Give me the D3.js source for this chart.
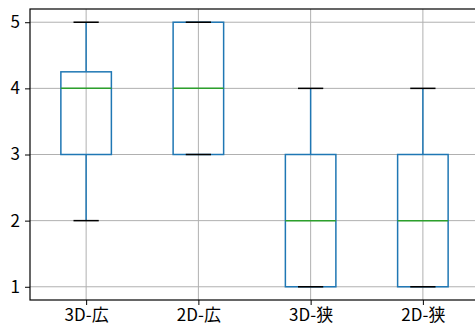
<!DOCTYPE html>
<html lang="ja">
    <head>
        <meta charset="utf-8">
        <title>Boxplot</title>
        <script src="https://d3js.org/d3.v7.min.js"></script>
        <style type="text/css">
            body { margin: 0; background: #fff; }
            .tick text {
                font-size: 17px;
                font-family: "Noto Sans CJK JP", "DejaVu Sans", sans-serif;
                fill: #000;
            }
        </style>
    </head>
    <body>
        <svg width="475" height="329"></svg>
        <script type="text/javascript">

            // categories and five-number summaries
            const categories = ["3D-広", "2D-広", "3D-狭", "2D-狭"];
            const whiskerLow  = [2, 3, 1, 1];
            const q1          = [3, 3, 1, 1];
            const medians     = [4, 4, 2, 2];
            const q3          = [4.25, 5, 3, 3];
            const whiskerHigh = [5, 5, 4, 4];
            const yTicks = [1, 2, 3, 4, 5];

            const svg = d3.select("svg");
            const plotL = 30, plotR = 479, plotT = 9, plotB = 300;

            const data = categories.map((c, i) => ({
                name: c, pos: i + 1,
                lo: whiskerLow[i], q1: q1[i], med: medians[i], q3: q3[i], hi: whiskerHigh[i]
            }));

            const xScale = d3.scaleLinear().domain([0.5, 4.5]).range([plotL, plotR]);
            const yScale = d3.scaleLinear().domain([0.8, 5.2]).range([plotB, plotT]);

            const boxW = xScale(0.45) - xScale(0);
            const capW = boxW / 2;

            // grid
            svg.append("g").selectAll("line")
               .data(yTicks).enter().append("line")
               .attr("x1", plotL).attr("x2", plotR)
               .attr("y1", d => yScale(d)).attr("y2", d => yScale(d))
               .attr("stroke", "#b0b0b0").attr("stroke-width", 1);
            svg.append("g").selectAll("line")
               .data(data).enter().append("line")
               .attr("x1", d => xScale(d.pos)).attr("x2", d => xScale(d.pos))
               .attr("y1", plotT).attr("y2", plotB)
               .attr("stroke", "#b0b0b0").attr("stroke-width", 1);

            // boxes
            const boxes = svg.append("g").selectAll("g")
                             .data(data).enter().append("g");

            boxes.append("line")
                 .attr("x1", d => xScale(d.pos)).attr("x2", d => xScale(d.pos))
                 .attr("y1", d => yScale(d.lo)).attr("y2", d => yScale(d.q1))
                 .attr("stroke", "#1f77b4").attr("stroke-width", 1.5);
            boxes.append("line")
                 .attr("x1", d => xScale(d.pos)).attr("x2", d => xScale(d.pos))
                 .attr("y1", d => yScale(d.q3)).attr("y2", d => yScale(d.hi))
                 .attr("stroke", "#1f77b4").attr("stroke-width", 1.5);

            boxes.append("rect")
                 .attr("x", d => xScale(d.pos) - boxW / 2)
                 .attr("y", d => yScale(d.q3))
                 .attr("width", boxW)
                 .attr("height", d => yScale(d.q1) - yScale(d.q3))
                 .attr("fill", "none")
                 .attr("stroke", "#1f77b4").attr("stroke-width", 1.5);

            boxes.append("line")
                 .attr("x1", d => xScale(d.pos) - boxW / 2).attr("x2", d => xScale(d.pos) + boxW / 2)
                 .attr("y1", d => yScale(d.med)).attr("y2", d => yScale(d.med))
                 .attr("stroke", "#2ca02c").attr("stroke-width", 1.5);

            // caps
            ["lo", "hi"].forEach(k => {
                boxes.append("line")
                     .attr("x1", d => xScale(d.pos) - capW / 2).attr("x2", d => xScale(d.pos) + capW / 2)
                     .attr("y1", d => yScale(d[k])).attr("y2", d => yScale(d[k]))
                     .attr("stroke", "#000").attr("stroke-width", 1.5);
            });

            // axes
            const xAxis = d3.axisBottom(xScale)
                            .tickValues(data.map(d => d.pos))
                            .tickFormat((d, i) => categories[i])
                            .tickSizeOuter(0).tickSize(5).tickPadding(4);
            svg.append("g").attr("transform", `translate(0,${plotB})`).call(xAxis)
               .call(g => g.select(".domain").remove());

            const yAxis = d3.axisLeft(yScale).tickValues(yTicks)
                            .tickFormat(d3.format("d"))
                            .tickSizeOuter(0).tickSize(5).tickPadding(5);
            svg.append("g").attr("transform", `translate(${plotL},0)`).call(yAxis)
               .call(g => g.select(".domain").remove());

            // spines
            svg.append("rect")
               .attr("x", plotL).attr("y", plotT)
               .attr("width", plotR - plotL).attr("height", plotB - plotT)
               .attr("fill", "none").attr("stroke", "#000").attr("stroke-width", 1.2);

        </script>
    </body>
</html>
